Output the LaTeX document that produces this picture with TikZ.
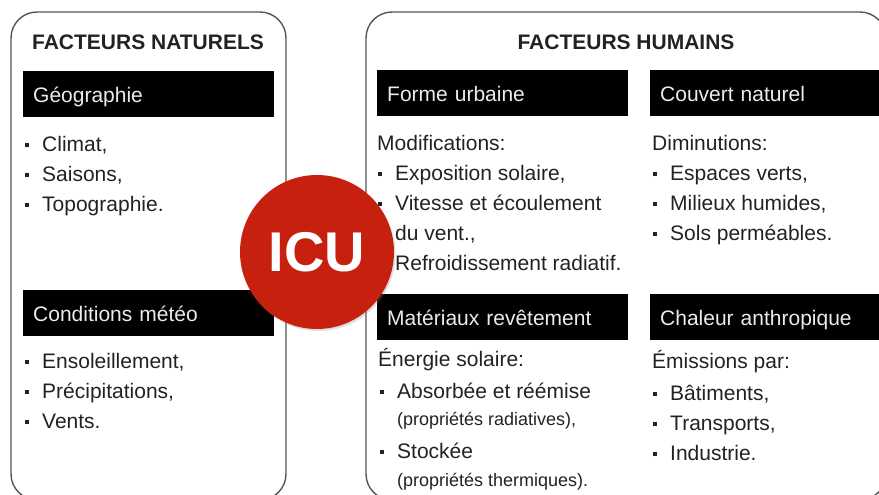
\documentclass[tikz,border=0pt]{standalone}
\usepackage{fontspec}
\setmainfont{Liberation Sans}
\usetikzlibrary{shadows}
\definecolor{icured}{HTML}{C8200F}
\definecolor{encre}{HTML}{222222}
\definecolor{cadre}{HTML}{555555}
\newcommand\puce{\llap{\rule[4pt]{4.5pt}{4.5pt}\hspace{13pt}}}

\begin{document}
\begin{tikzpicture}[x=1pt, y=-1pt,
                    panneau/.style = {draw=cadre, line width=1.4pt, rounded corners=26pt},
                    titre/.style = {anchor=base, inner sep=0, text=encre,
                      font=\fontsize{21}{25}\selectfont\bfseries},
                    barre/.style = {anchor=north west, fill=black, text=black!8,
                      minimum width=251pt, minimum height=46pt, text width=231pt,
                      inner xsep=10pt, text height=18pt, text depth=1pt, align=left,
                      font=\fontsize{21}{25}\selectfont},
                    ligne/.style = {anchor=base west, inner sep=0, text=encre,
                      font=\fontsize{21}{25}\selectfont},
                    petit/.style = {ligne, font=\fontsize{18}{22}\selectfont}]
  \useasboundingbox (0,0) rectangle (879,495);
  \clip (0,0) rectangle (879,495);
  \draw[panneau] (11,12) rectangle (286,500);
  \draw[panneau] (366,12) rectangle (886,500);
  \node[titre] (naturels) at (148,50) {FACTEURS NATURELS};
  \node[titre] (humains) at (626,50) {FACTEURS HUMAINS};

  \node[barre] (geo) at (23,71) {Géographie};
  \foreach \txt [count=\i from 0] in {{Climat,},{Saisons,},{Topographie.}}
    \node[ligne] (geo-\i) at (42,151+30*\i) {\puce\txt};

  \node[barre] (meteo) at (23,290) {Conditions météo};
  \foreach \txt [count=\i from 0] in {{Ensoleillement,},{Précipitations,},{Vents.}}
    \node[ligne] (meteo-\i) at (42,368+30*\i) {\puce\txt};

  \node[barre] (forme) at (377,70) {Forme urbaine};
  \node[ligne] (forme-t) at (377,150) {Modifications:};
  \node[ligne] (forme-1) at (395,180) {\puce Exposition solaire,};
  \node[ligne] (forme-2) at (395,210) {\puce Vitesse et écoulement};
  \node[ligne] (forme-3) at (395,240) {du vent.,};
  \node[ligne] (forme-4) at (395,270) {\puce Refroidissement radiatif.};

  \node[barre] (couvert) at (650,70) {Couvert naturel};
  \node[ligne] (couvert-t) at (652,150) {Diminutions:};
  \foreach \txt [count=\i] in {{Espaces verts,},{Milieux humides,},{Sols perméables.}}
    \node[ligne] (couvert-\i) at (670,150+30*\i) {\puce\txt};

  \node[barre] (materiaux) at (377,294) {Matériaux revêtement};
  \node[ligne] (materiaux-t) at (378,366) {Énergie solaire:};
  \node[ligne] (materiaux-1) at (397,398) {\puce Absorbée et réémise};
  \node[petit] (materiaux-2) at (397,425) {(propriétés radiatives),};
  \node[ligne] (materiaux-3) at (397,458) {\puce Stockée};
  \node[petit] (materiaux-4) at (397,486) {(propriétés thermiques).};

  \node[barre] (chaleur) at (650,294) {Chaleur anthropique};
  \node[ligne] (chaleur-t) at (652,368) {Émissions par:};
  \foreach \txt [count=\i] in {{Bâtiments,},{Transports,},{Industrie.}}
    \node[ligne] (chaleur-\i) at (670,370+30*\i) {\puce\txt};

  \node[circle, fill=icured, minimum size=154pt, inner sep=0, text=white,
        font=\fontsize{56}{60}\selectfont\bfseries,
        drop shadow={opacity=0.25, shadow xshift=1.5pt, shadow yshift=-2pt}] (icu) at (317,252) {ICU};
\end{tikzpicture}
\end{document}
